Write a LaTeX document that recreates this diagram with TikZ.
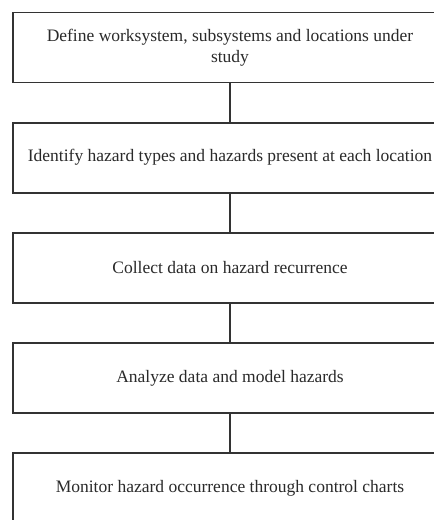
\documentclass[tikz,border=0pt]{standalone}
\usepackage{fontspec}
\setmainfont{Liberation Serif}
\usepackage{tikz}
\usetikzlibrary{positioning}
\definecolor{cLine}{HTML}{333333}
\definecolor{cText}{HTML}{2A2A2A}
\tikzset{
  node distance=38.4pt,
  stepbox/.style={rectangle, draw=cLine, line width=1.8pt, fill=white,
                  align=center, text=cText, font=\fontsize{17.5}{21.5}\selectfont,
                  minimum width=434pt, minimum height=70pt, inner sep=3pt},
  link/.style   ={draw=cLine, line width=1.8pt},
}
\begin{document}
\begin{tikzpicture}[x=1pt,y=1pt]
  \useasboundingbox (0,0) rectangle (434,-520);
  \clip (0,0) rectangle (434,-520);
  \node[stepbox] (define) at (230,-47.5) {Define worksystem, subsystems and locations under\\study};
  \node[stepbox,below=of define] (identify) {Identify hazard types and hazards present at each location};
  \node[stepbox,below=of identify] (collect) {Collect data on hazard recurrence};
  \node[stepbox,below=of collect] (analyze) {Analyze data and model hazards};
  \node[stepbox,below=of analyze] (monitor) {Monitor hazard occurrence through control charts};
  \draw[link](define)--(identify);\draw[link](identify)--(collect);
  \draw[link](collect)--(analyze);\draw[link](analyze)--(monitor);
\end{tikzpicture}
\end{document}
